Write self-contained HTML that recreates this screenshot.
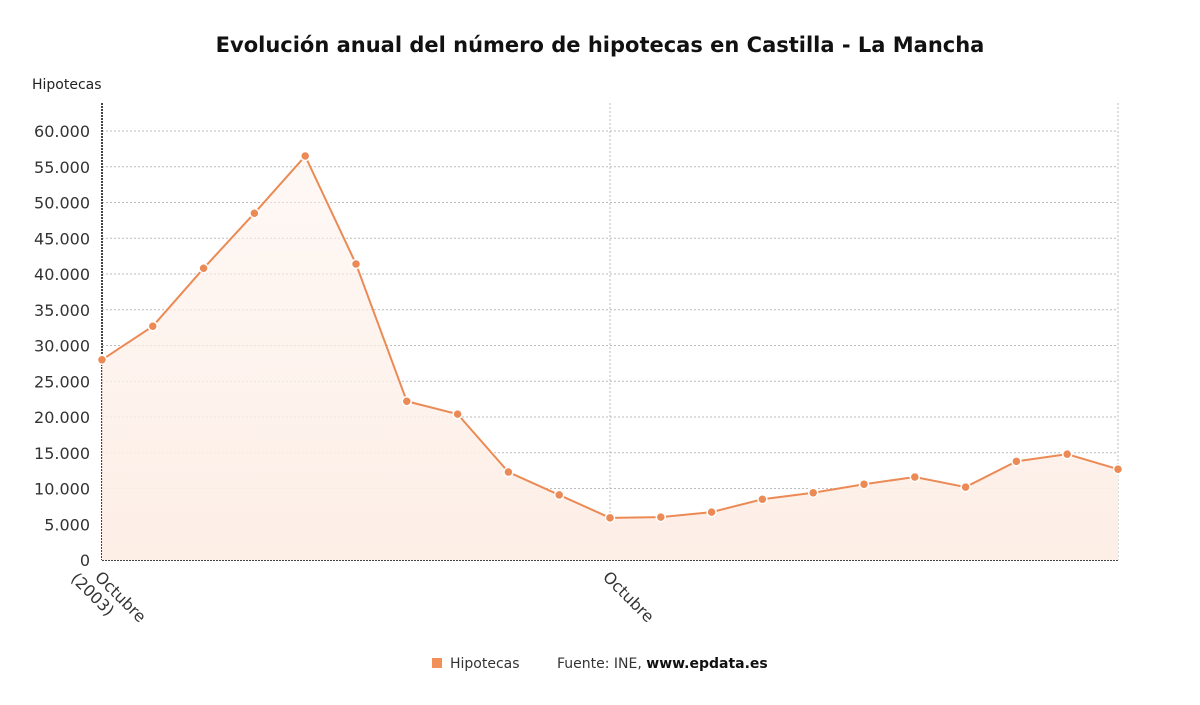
<!DOCTYPE html>
<html><head><meta charset="utf-8"><style>
body{margin:0;background:#fff;font-family:"DejaVu Sans","Liberation Sans",sans-serif;}
svg{display:block}
:root text{font-family:"DejaVu Sans","Liberation Sans",sans-serif;}
</style></head><body>
<svg id="chart" width="1200" height="705">
<text x="600" y="52" text-anchor="middle" font-size="21" font-weight="bold" fill="#111">Evolución anual del número de hipotecas en Castilla - La Mancha</text>
<text x="32" y="89" font-size="14" fill="#222">Hipotecas</text>
<g id="grid"></g><g id="area"></g><g id="marks"></g>
<g>
<rect x="432" y="658" width="10" height="10" fill="#f2905a"></rect>
<text x="450" y="668" font-size="14" fill="#333">Hipotecas</text>
<text x="557" y="668" font-size="14" fill="#333">Fuente: INE, <tspan font-weight="bold" fill="#111">www.epdata.es</tspan></text>
</g>
</svg>
<script>
const years=[2003,2004,2005,2006,2007,2008,2009,2010,2011,2012,2013,2014,2015,2016,2017,2018,2019,2020,2021,2022,2023];
const values=[28000,32700,40800,48500,56500,41400,22200,20400,12300,9100,5900,6000,6700,8500,9400,10600,11600,10200,13800,14800,12700];
const yTicks=[0,5000,10000,15000,20000,25000,30000,35000,40000,45000,50000,55000,60000];
const xLabels=[{i:0,t:["Octubre","(2003)"]},{i:10,t:["Octubre"]}];
const x0=102,x1=1118,yb=560,yt=131,ymax=60000;
const X=i=>x0+(x1-x0)*i/(years.length-1);
const Y=v=>yb-(yb-yt)*v/ymax;
const ns="http://www.w3.org/2000/svg";
function mk(p,tag,a){const e=document.createElementNS(ns,tag);for(const k in a)e.setAttribute(k,a[k]);p.appendChild(e);return e;}
const g=document.getElementById('grid');
const fmt=v=>v.toLocaleString('de-DE');
yTicks.forEach(v=>{
 const l=mk(g,'line',{x1:x0,x2:x1,y1:Y(v),y2:Y(v),stroke:v===0?'#444':'#bbb','stroke-dasharray':v===0?'2,1':'2,2','stroke-width':v===0?2:1});
 
 
 const t=mk(g,'text',{x:90,y:Y(v)+6,'text-anchor':'end','font-size':16,fill:'#333'});t.textContent=fmt(v);
 
 
});
[10,20].forEach(i=>{const l=mk(g,'line',{x1:X(i),x2:X(i),y1:103,y2:yb,stroke:'#bbb','stroke-dasharray':'2,2'});
 
 });
const ax=mk(g,'line',{x1:x0,x2:x0,y1:103,y2:yb,stroke:'#444','stroke-width':2,'stroke-dasharray':'2,1'});


xLabels.forEach(o=>{
 const t=mk(g,'text',{transform:`translate(${X(o.i)-8},${yb+18}) rotate(45)`,'font-size':16,fill:'#333'});
 o.t.forEach((s,k)=>{const ts=mk(t,'tspan',{x:-k*16,dy:k?18:0});ts.textContent=s;});
 
 
});
let d='';values.forEach((v,i)=>d+=(i?'L':'M')+X(i)+','+Y(v));
const defs=mk(document.getElementById('chart'),'defs',{});
const lg=mk(defs,'linearGradient',{id:'ag',x1:0,y1:0,x2:0,y2:1});
mk(lg,'stop',{offset:0,'stop-color':'#fdf1ea','stop-opacity':0.5});
mk(lg,'stop',{offset:1,'stop-color':'#fdeee6'});
const ar=mk(document.getElementById('area'),'path',{d:d+`L${X(values.length-1)},${yb}L${x0},${yb}Z`,fill:'url(#ag)'});


const m=document.getElementById('marks');
const ln=mk(m,'path',{d:d,fill:'none',stroke:'#ec8a55','stroke-width':2});


values.forEach((v,i)=>{const c=mk(m,'circle',{cx:X(i),cy:Y(v),r:4.5,fill:'#ec8a55',stroke:'#fff','stroke-width':1.5});
 
 });
</script>
</body></html>
